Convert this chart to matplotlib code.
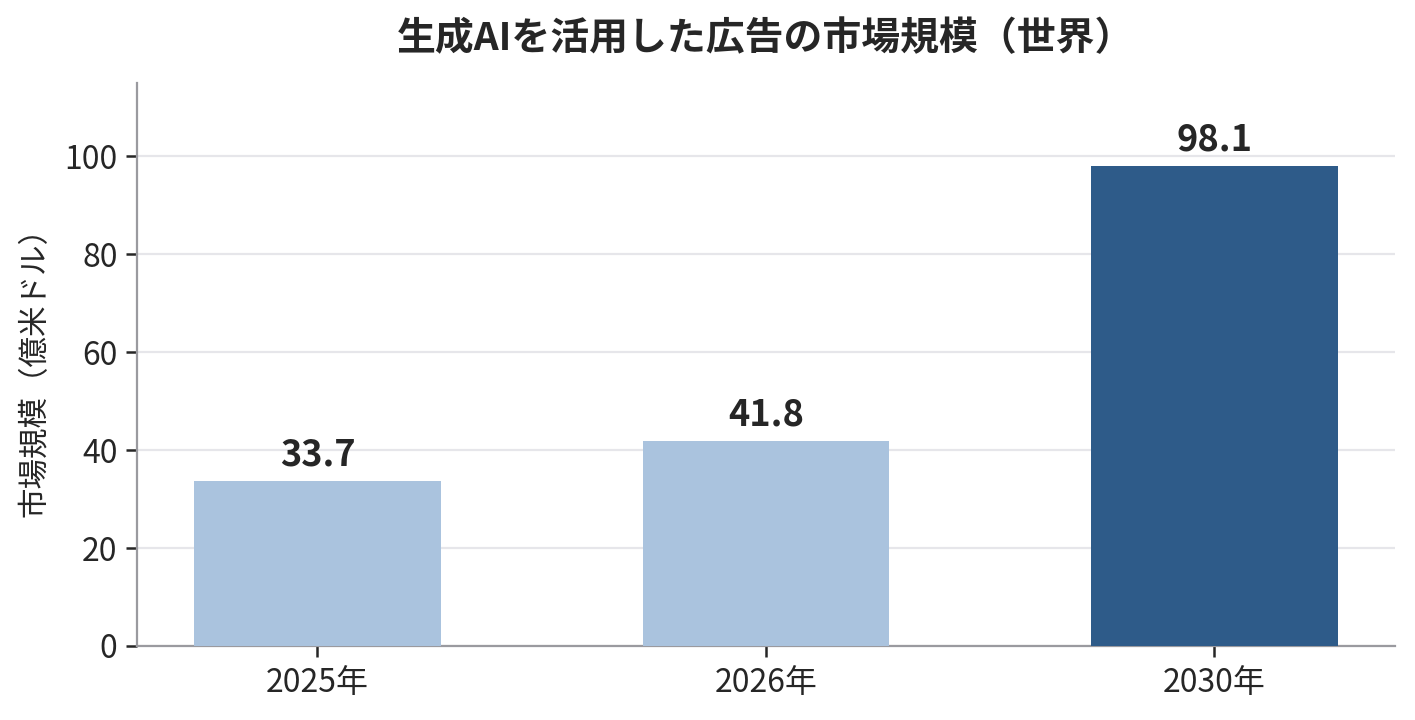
import matplotlib as mpl
mpl.use('Agg')
import matplotlib.pyplot as plt

plt.rcParams['font.family'] = ['Noto Sans CJK JP', 'DejaVu Sans']

# data
years = ['2025年', '2026年', '2030年']
values = [33.7, 41.8, 98.1]
colors = ['#aac3de', '#aac3de', '#2e5b89']

fig = plt.figure(figsize=(7.075, 3.6), dpi=200)
ax = fig.add_axes([0.0968, 0.1028, 0.889, 0.782])

x = list(range(len(years)))
ax.bar(x, values, width=0.55, color=colors, zorder=3)

for xi, v in zip(x, values):
    ax.text(xi, v + 1.5, f'{v:.1f}', ha='center', va='bottom',
            fontsize=13, fontweight='bold', color='#262626')

ax.set_xticks(x)
ax.set_xticklabels(years)
ax.set_ylim(0, 115)
ax.set_yticks([0, 20, 40, 60, 80, 100])
ax.tick_params(axis='both', labelsize=11.5, colors='#262626', length=4, width=0.9)
ax.tick_params(axis='y', pad=3)

ax.set_ylabel('市場規模（億米ドル）', fontsize=11, color='#262626', labelpad=5)
ax.set_title('生成AIを活用した広告の市場規模（世界）', fontsize=14,
             fontweight='bold', color='#262626', pad=12)

ax.yaxis.grid(True, color='#e6e6ea', linewidth=0.8, zorder=0)
ax.set_axisbelow(True)

ax.spines['top'].set_visible(False)
ax.spines['right'].set_visible(False)
ax.spines['left'].set_color('#9a9a9f')
ax.spines['bottom'].set_color('#9a9a9f')

fig.savefig('out.png', dpi=200)
